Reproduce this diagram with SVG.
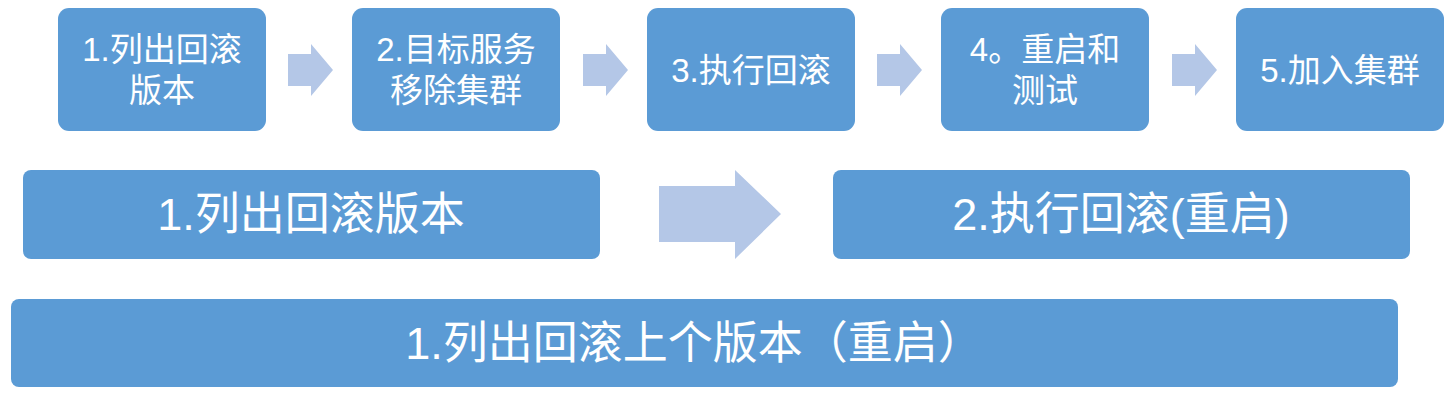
<svg xmlns="http://www.w3.org/2000/svg" width="1453" height="402" viewBox="0 0 1453 402">
<style>
.box{fill:#5B9BD5}
.arr{fill:#B4C7E7}
text{fill:#FFFFFF;font-family:"Liberation Sans","Noto Sans CJK SC",sans-serif;text-anchor:middle}
.s{font-size:33px}
.l{font-size:45px}
</style>
<rect width="1453" height="402" fill="#FFFFFF"/>
<g id="connectors">
<polygon class="arr" points="288,54 311,54 311,44 333,70 311,96 311,86 288,86"/>
<polygon class="arr" points="583,54 606,54 606,44 628,70 606,96 606,86 583,86"/>
<polygon class="arr" points="877,54 900,54 900,44 922,70 900,96 900,86 877,86"/>
<polygon class="arr" points="1172,54 1195,54 1195,44 1217,70 1195,96 1195,86 1172,86"/>
<polygon class="arr" points="659,186 735,186 735,170 781,214 735,259 735,242 659,242"/>
</g>
<g id="n1"><rect class="box" x="58" y="8" width="208" height="123" rx="11"/><text class="s" x="162" y="61">1.列出回滚</text><text class="s" x="162" y="102">版本</text></g>
<g id="n2"><rect class="box" x="352" y="8" width="208" height="123" rx="11"/><text class="s" x="456" y="61">2.目标服务</text><text class="s" x="456" y="102">移除集群</text></g>
<g id="n3"><rect class="box" x="647" y="8" width="208" height="123" rx="11"/><text class="s" x="751" y="82">3.执行回滚</text></g>
<g id="n4"><rect class="box" x="941" y="8" width="208" height="123" rx="11"/><text class="s" x="1045" y="61">4。重启和</text><text class="s" x="1045" y="102">测试</text></g>
<g id="n5"><rect class="box" x="1236" y="8" width="208" height="123" rx="11"/><text class="s" x="1340" y="82">5.加入集群</text></g>
<g id="m1"><rect class="box" x="23" y="170" width="577" height="89" rx="8"/><text class="l" x="311" y="230">1.列出回滚版本</text></g>
<g id="m2"><rect class="box" x="833" y="170" width="577" height="89" rx="8"/><text class="l" x="1121" y="230">2.执行回滚(重启)</text></g>
<g id="b1"><rect class="box" x="11" y="299" width="1387" height="88" rx="8"/><text class="l" x="694" y="359">1.列出回滚上个版本（重启）</text></g>
</svg>
